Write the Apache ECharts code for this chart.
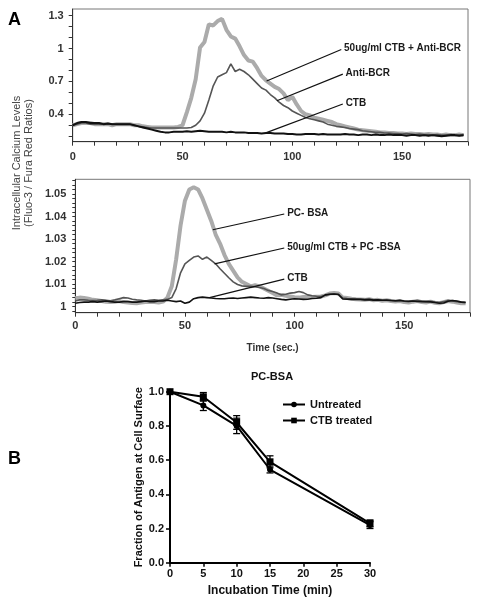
<!DOCTYPE html>
<html><head><meta charset="utf-8">
<script src="https://cdn.jsdelivr.net/npm/echarts@6/dist/echarts.min.js"></script>
<style>html,body{margin:0;padding:0;background:#fff}#c{width:480px;height:606px}</style>
</head><body><div id="c"></div>
<script>
// ---------- Panel A time base (sec.) ----------
const timeA = [0,2,4,6,8,10,12,14,16,18,20,22,24,26,28,30,32,34,36,38,40,42,44,46,48,50,52,54,56,58,
  60,62,64,66,68,70,72,74,76,78,80,82,84,86,88,90,92,94,96,98,100,102,104,106,108,110,112,114,116,118,
  120,122,124,126,128,130,132,134,136,138,140,142,144,146,148,150,152,154,156,158,160,162,164,166,168,170,172,174,176,178];

// Top panel: Anti-BCR stimulation
const ctbTopName = 'CTB';
const ctbTop = [0.30,0.32,0.33,0.33,0.32,0.32,0.32,0.31,0.315,0.31,0.31,0.31,0.31,0.31,0.30,
  0.29,0.28,0.27,0.26,0.25,0.24,0.235,0.235,0.24,0.24,0.24,0.245,0.24,0.245,0.25,
  0.245,0.24,0.24,0.24,0.24,0.235,0.24,0.235,0.235,0.235,0.23,0.23,0.23,0.225,0.23,
  0.23,0.225,0.225,0.225,0.22,0.22,0.215,0.215,0.22,0.22,0.22,0.215,0.22,0.215,0.215,
  0.215,0.215,0.22,0.215,0.215,0.21,0.215,0.215,0.21,0.215,0.21,0.21,0.215,0.21,0.21,
  0.21,0.205,0.21,0.21,0.205,0.21,0.205,0.21,0.205,0.20,0.205,0.21,0.21,0.205,0.21];
const comboTopName = '50ug/ml CTB + Anti-BCR';
const comboTop = [0.30,0.31,0.32,0.32,0.32,0.31,0.31,0.31,0.31,0.30,0.31,0.31,0.31,0.31,0.30,
  0.30,0.29,0.285,0.28,0.28,0.28,0.28,0.28,0.28,0.285,0.30,0.42,0.55,0.72,1.01,
  1.06,1.22,1.21,1.25,1.27,1.17,1.11,1.09,1.02,0.94,0.89,0.88,0.82,0.75,0.71,
  0.68,0.65,0.63,0.59,0.53,0.56,0.49,0.43,0.40,0.39,0.37,0.36,0.35,0.34,0.33,
  0.31,0.30,0.29,0.28,0.27,0.26,0.255,0.25,0.245,0.24,0.235,0.235,0.23,0.23,0.225,
  0.225,0.22,0.225,0.22,0.22,0.215,0.22,0.215,0.215,0.21,0.215,0.21,0.21,0.215,0.21];
const antiTopName = 'Anti-BCR';
const antiTop = [0.30,0.31,0.32,0.32,0.31,0.31,0.31,0.31,0.31,0.31,0.31,0.31,0.31,0.31,0.30,
  0.29,0.285,0.28,0.275,0.275,0.275,0.275,0.275,0.275,0.275,0.275,0.275,0.28,0.30,0.34,
  0.41,0.53,0.66,0.74,0.76,0.78,0.86,0.79,0.81,0.79,0.76,0.72,0.68,0.64,0.62,
  0.58,0.55,0.51,0.48,0.46,0.43,0.41,0.39,0.37,0.36,0.35,0.34,0.33,0.31,0.30,
  0.29,0.285,0.28,0.27,0.265,0.26,0.25,0.245,0.24,0.235,0.235,0.23,0.23,0.225,0.225,
  0.22,0.225,0.22,0.215,0.22,0.215,0.215,0.21,0.215,0.21,0.21,0.215,0.21,0.21,0.215];

// Bottom panel: PC-BSA stimulation
const pcBotName = 'PC- BSA';
const pcBot = [1.0037,1.004,1.0038,1.0035,1.003,1.0028,1.0025,1.0022,1.002,1.0022,1.0025,1.002,1.0018,1.0016,1.0015,
  1.0018,1.002,1.0022,1.002,1.0018,1.0022,1.004,1.009,1.021,1.036,1.047,1.052,1.053,1.052,1.048,
  1.043,1.038,1.032,1.028,1.023,1.019,1.016,1.013,1.011,1.010,1.009,1.0095,1.009,1.008,1.007,
  1.006,1.005,1.0052,1.0048,1.0045,1.0042,1.004,1.0043,1.0045,1.0043,1.0044,1.0045,1.005,1.0058,1.006,
  1.0058,1.004,1.0038,1.0035,1.0033,1.0032,1.003,1.0033,1.0028,1.003,1.0026,1.0028,1.0025,1.0023,1.0025,
  1.002,1.0018,1.0022,1.0025,1.002,1.0018,1.0022,1.0017,1.0015,1.002,1.0025,1.0022,1.0018,1.0015,1.0015];
const comboBotName = '50ug/ml CTB + PC -BSA';
const comboBot = [1.0025,1.003,1.003,1.0028,1.0027,1.0028,1.003,1.0028,1.0026,1.003,1.0035,1.004,1.0038,1.0033,1.003,
  1.0028,1.0025,1.0028,1.003,1.0028,1.003,1.0032,1.004,1.008,1.015,1.019,1.0205,1.022,1.0225,1.021,
  1.022,1.0205,1.019,1.0168,1.0148,1.0128,1.011,1.0098,1.0092,1.009,1.009,1.0088,1.0085,1.008,1.0072,
  1.0067,1.006,1.0052,1.0055,1.006,1.0062,1.0067,1.0062,1.0052,1.0048,1.0046,1.0045,1.005,1.0055,1.0056,
  1.0055,1.0038,1.0036,1.0035,1.0034,1.0033,1.0032,1.0034,1.003,1.003,1.0028,1.003,1.0027,1.0025,1.0028,
  1.0024,1.0022,1.0025,1.0027,1.0024,1.0022,1.0024,1.002,1.0018,1.0022,1.0027,1.0025,1.0022,1.002,1.0018];
const ctbBotName = 'CTB';
const ctbBot = [1.0015,1.0018,1.002,1.002,1.0022,1.002,1.0022,1.0025,1.0022,1.002,1.002,1.0022,1.0022,1.002,1.002,
  1.0022,1.0025,1.0022,1.0022,1.0025,1.0025,1.0028,1.0025,1.0022,1.0025,1.0015,1.002,1.0035,1.004,1.0042,
  1.004,1.0038,1.0036,1.0035,1.0035,1.0037,1.0038,1.0036,1.0038,1.004,1.0042,1.004,1.0038,1.0037,1.004,
  1.0038,1.0035,1.0032,1.003,1.0033,1.0035,1.0034,1.0032,1.0033,1.0036,1.0037,1.004,1.0052,1.0055,1.0056,
  1.0054,1.0034,1.0033,1.0032,1.0033,1.0032,1.003,1.0031,1.0029,1.003,1.0028,1.0028,1.0027,1.0026,1.0027,
  1.0025,1.0024,1.0025,1.0023,1.0022,1.0022,1.0021,1.0018,1.0015,1.0016,1.0024,1.0027,1.0025,1.002,1.0018];

// leader lines (data coordinates: [t, value] start -> end)
const leadTop = {combo: [[88.3,0.703],[122.3,0.991]], anti: [[93,0.524],[123,0.766]], ctb: [[88.2,0.233],[123,0.494]]};
const leadBot = {pc: [[62.7,1.0341],[95.3,1.0411]], combo: [[63.5,1.019],[95.3,1.026]], ctb: [[61.2,1.004],[95.3,1.0122]]};

// axis ticks / labels
const xLabelsA = [0,50,100,150];
const xTicksA = [0,10,20,30,40,50,60,70,80,90,100,110,120,130,140,150,160,170,180];
const yLabelsTop = [0.4,0.7,1,1.3];
const yTicksTop = [0.2,0.3,0.4,0.5,0.6,0.7,0.8,0.9,1.0,1.1,1.2,1.3];
const yLabelsBot = [1,1.01,1.02,1.03,1.04,1.05];
const yTicksBot = [0.998,1,1.002,1.004,1.006,1.008,1.01,1.012,1.014,1.016,1.018,1.02,1.022,1.024,1.026,1.028,
  1.03,1.032,1.034,1.036,1.038,1.04,1.042,1.044,1.046,1.048,1.05,1.052,1.054,1.056];

// ---------- Panel B ----------
const incubation = [0,5,10,15,30];
const untreated = [1.0,0.92,0.80,0.545,0.22];
const untreatedErr = [0,0.03,0.045,0.02,0.02];
const ctbTreated = [1.0,0.97,0.82,0.59,0.23];
const ctbTreatedErr = [0,0.025,0.04,0.035,0.02];
const xTicksB = [0,5,10,15,20,25,30];

const FONT = '"Liberation Sans", Arial, sans-serif';
const chart = echarts.init(document.getElementById('c'), null, {renderer:'canvas'});

function zip(t, v){ return t.map((x,i)=>[x, v[i]]); }
function leader(seg, text){
  return {
    silent:true, symbol:['none','none'], animation:false,
    lineStyle:{color:'#111', width:1.2, type:'solid'},
    label:{show:true, position:'end', distance:3, formatter:text, fontFamily:FONT, fontWeight:'bold', fontSize:10, color:'#1a1a1a'},
    emphasis:{disabled:true},
    data:[[{coord:seg[0]},{coord:seg[1]}]]
  };
}
const axisTxt = {fontFamily:FONT, fontWeight:'bold', fontSize:11, color:'#333'};

function errSeries(vals, errs){
  return {
    type:'custom', xAxisIndex:2, yAxisIndex:2, silent:true, z:3,
    data: incubation.map((x,i)=>[x, vals[i]-errs[i], vals[i]+errs[i]]),
    renderItem:(params, api)=>{
      if (api.value(2) - api.value(1) <= 0) return null;
      const lo = api.coord([api.value(0), api.value(1)]);
      const hi = api.coord([api.value(0), api.value(2)]);
      const w = 3.5, st = {stroke:'#000', lineWidth:1.3};
      return {type:'group', children:[
        {type:'line', shape:{x1:lo[0],y1:lo[1],x2:hi[0],y2:hi[1]}, style:st},
        {type:'line', shape:{x1:lo[0]-w,y1:lo[1],x2:lo[0]+w,y2:lo[1]}, style:st},
        {type:'line', shape:{x1:hi[0]-w,y1:hi[1],x2:hi[0]+w,y2:hi[1]}, style:st}
      ]};
    }
  };
}

const option = {
  animation:false,
  backgroundColor:'#fff',
  grid:[
    {left:72.7, top:9, width:395.3, height:132.7, show:true, borderColor:'#777', borderWidth:1},
    {left:75.3, top:179.3, width:394.7, height:133.4, show:true, borderColor:'#777', borderWidth:1},
    {left:170, top:391.7, width:200, height:171}
  ],
  xAxis:[
    {gridIndex:0, type:'value', min:0, max:180,
     axisLine:{show:true, lineStyle:{color:'#333', width:1}},
     axisTick:{show:true, length:4, customValues:xTicksA, lineStyle:{color:'#333'}},
     axisLabel:Object.assign({customValues:xLabelsA, margin:10}, axisTxt),
     splitLine:{show:false}},
    {gridIndex:1, type:'value', min:0, max:180,
     axisLine:{show:true, lineStyle:{color:'#333', width:1}},
     axisTick:{show:true, length:4, customValues:xTicksA, lineStyle:{color:'#333'}},
     axisLabel:Object.assign({customValues:xLabelsA, margin:8}, axisTxt),
     splitLine:{show:false},
     name:'Time (sec.)', nameLocation:'middle', nameGap:31,
     nameTextStyle:{fontFamily:FONT, fontWeight:'bold', fontSize:10, color:'#333'}},
    {gridIndex:2, type:'value', min:0, max:30, interval:5,
     axisLine:{show:true, onZero:false, lineStyle:{color:'#000', width:2}},
     axisTick:{show:true, length:4, customValues:xTicksB, lineStyle:{color:'#000', width:1.5}},
     axisLabel:{customValues:xTicksB, margin:6, fontFamily:FONT, fontWeight:'bold', fontSize:11, color:'#111'},
     splitLine:{show:false},
     name:'Incubation Time (min)', nameLocation:'middle', nameGap:22,
     nameTextStyle:{fontFamily:FONT, fontWeight:'bold', fontSize:12, color:'#111'}}
  ],
  yAxis:[
    {gridIndex:0, type:'value', min:0.15, max:1.36,
     axisLine:{show:true, lineStyle:{color:'#333', width:1}},
     axisTick:{show:true, length:4, customValues:yTicksTop, lineStyle:{color:'#333'}},
     axisLabel:Object.assign({customValues:yLabelsTop, margin:9, formatter:v=>String(+v.toFixed(2))}, axisTxt),
     splitLine:{show:false}},
    {gridIndex:1, type:'value', min:0.9973, max:1.0565,
     axisLine:{show:true, lineStyle:{color:'#333', width:1}},
     axisTick:{show:true, length:3, customValues:yTicksBot, lineStyle:{color:'#333'}},
     axisLabel:Object.assign({customValues:yLabelsBot, margin:9, formatter:v=>String(+v.toFixed(2))}, axisTxt),
     splitLine:{show:false}},
    {gridIndex:2, type:'value', min:0, max:1.0, interval:0.2,
     axisLine:{show:true, onZero:false, lineStyle:{color:'#000', width:2}},
     axisTick:{show:true, length:4, lineStyle:{color:'#000', width:1.5}},
     axisLabel:{margin:6, fontFamily:FONT, fontWeight:'bold', fontSize:11, color:'#111', formatter:v=>v.toFixed(1)},
     splitLine:{show:false},
     name:'Fraction of Antigen at Cell Surface', nameLocation:'middle', nameGap:26,
     nameTextStyle:{fontFamily:FONT, fontWeight:'bold', fontSize:11, color:'#111'}}
  ],
  legend:{
    data:['Untreated','CTB treated'], orient:'vertical', left:277, top:394,
    itemWidth:22, itemHeight:7, itemGap:5,
    textStyle:{fontFamily:FONT, fontWeight:'bold', fontSize:11, color:'#111'}
  },
  graphic:[
    {type:'text', left:8, top:11, style:{text:'A', font:'bold 18px '+FONT, fill:'#000'}},
    {type:'text', left:8, top:450, style:{text:'B', font:'bold 18px '+FONT, fill:'#000'}},
    {type:'text', x:17, y:163, rotation:Math.PI/2, style:{text:'Intracellular Calcium Levels', font:'11px '+FONT, fill:'#444', textAlign:'center', textVerticalAlign:'middle'}},
    {type:'text', x:29, y:163, rotation:Math.PI/2, style:{text:'(Fluo-3 / Fura Red Ratios)', font:'11px '+FONT, fill:'#444', textAlign:'center', textVerticalAlign:'middle'}},
    {type:'text', x:272, y:377, style:{text:'PC-BSA', font:'bold 11px '+FONT, fill:'#111', textAlign:'center', textVerticalAlign:'middle'}}
  ],
  series:[
    {type:'line', xAxisIndex:0, yAxisIndex:0, name:comboTopName, data:zip(timeA, comboTop), showSymbol:false, symbol:'none',
     lineStyle:{color:'#ababab', width:4}, z:2, markLine:leader(leadTop.combo, comboTopName)},
    {type:'line', xAxisIndex:0, yAxisIndex:0, name:antiTopName, data:zip(timeA, antiTop), showSymbol:false, symbol:'none',
     lineStyle:{color:'#555', width:1.6}, z:3, markLine:leader(leadTop.anti, antiTopName)},
    {type:'line', xAxisIndex:0, yAxisIndex:0, name:ctbTopName, data:zip(timeA, ctbTop), showSymbol:false, symbol:'none',
     lineStyle:{color:'#111', width:2}, z:4, markLine:leader(leadTop.ctb, ctbTopName)},

    {type:'line', xAxisIndex:1, yAxisIndex:1, name:pcBotName, data:zip(timeA, pcBot), showSymbol:false, symbol:'none',
     lineStyle:{color:'#ababab', width:4}, z:2, markLine:leader(leadBot.pc, pcBotName)},
    {type:'line', xAxisIndex:1, yAxisIndex:1, name:comboBotName, data:zip(timeA, comboBot), showSymbol:false, symbol:'none',
     lineStyle:{color:'#555', width:1.6}, z:3, markLine:leader(leadBot.combo, comboBotName)},
    {type:'line', xAxisIndex:1, yAxisIndex:1, name:ctbBotName+' ', data:zip(timeA, ctbBot), showSymbol:false, symbol:'none',
     lineStyle:{color:'#111', width:1.6}, z:4, markLine:leader(leadBot.ctb, ctbBotName)},

    errSeries(untreated, untreatedErr),
    errSeries(ctbTreated, ctbTreatedErr),
    {type:'line', xAxisIndex:2, yAxisIndex:2, name:'Untreated', data:zip(incubation, untreated),
     symbol:'circle', symbolSize:6, itemStyle:{color:'#000'}, lineStyle:{color:'#000', width:2}, z:4},
    {type:'line', xAxisIndex:2, yAxisIndex:2, name:'CTB treated', data:zip(incubation, ctbTreated),
     symbol:'rect', symbolSize:7, itemStyle:{color:'#000'}, lineStyle:{color:'#000', width:2}, z:4}
  ]
};
chart.setOption(option);
</script></body></html>
